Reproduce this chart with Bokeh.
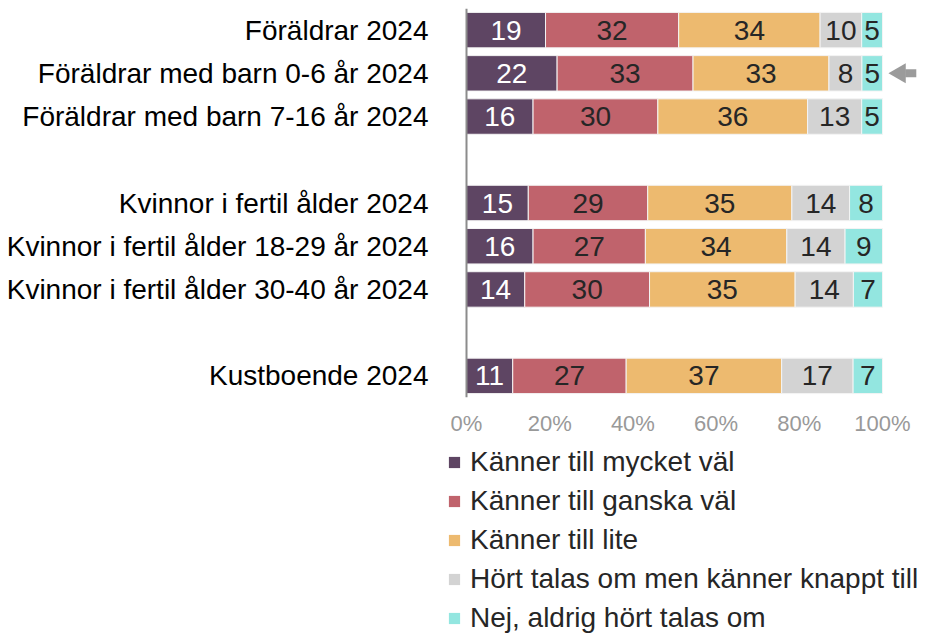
import numpy as np
from bokeh.plotting import figure
from bokeh.layouts import column
from bokeh.models import Range1d, FixedTicker, Legend, LegendItem, ColumnDataSource, Span
from bokeh.embed import file_html
from bokeh.resources import INLINE
from bokeh.core.properties import value

categories = ["Föräldrar 2024", "Föräldrar med barn 0-6 år 2024", "Föräldrar med barn 7-16 år 2024",
              "Kvinnor i fertil ålder 2024", "Kvinnor i fertil ålder 18-29 år 2024",
              "Kvinnor i fertil ålder 30-40 år 2024", "Kustboende 2024"]
row_pos = [0, 1, 2, 4, 5, 6, 8]
series_names = ["Känner till mycket väl", "Känner till ganska väl", "Känner till lite",
                "Hört talas om men känner knappt till", "Nej, aldrig hört talas om"]
mycket = [19, 22, 16, 15, 16, 14, 11]
ganska = [32, 33, 30, 29, 27, 30, 27]
lite = [34, 33, 36, 35, 34, 35, 37]
knappt = [10, 8, 13, 14, 14, 14, 17]
aldrig = [5, 5, 5, 8, 9, 7, 7]
colors = ["#5E4563", "#C0636C", "#EDBA6F", "#D3D3D3", "#93E6E0"]
label_colors = ["#FFFFFF", "#262626", "#262626", "#262626", "#262626"]
x_ticks = [0, 20, 40, 60, 80, 100]
arrow_row = 1

FONT = "Liberation Sans"

series = [mycket, ganska, lite, knappt, aldrig]
vals = np.array(series, dtype=float)          # shape (5, 7)
totals = vals.sum(axis=0)
shares = vals / totals * 100.0
rights = np.cumsum(shares, axis=0)
lefts = rights - shares

# layout constants (pixels)
FRAME_LEFT = 447      # left edge of both frames (legend swatches start here)
ZERO_PX = 466         # position of 0 %
PX_PER_100 = 416      # pixels for 100 %
px_per_unit = PX_PER_100 / 100.0
x_start = -(ZERO_PX - FRAME_LEFT) / px_per_unit
x_end = (928 - ZERO_PX) / px_per_unit

# ---------------- main chart ----------------
p = figure(width=928, height=442, output_backend="svg", toolbar_location=None,
           x_range=Range1d(x_start, x_end), y_range=Range1d(8.5, -0.5),
           min_border_left=FRAME_LEFT, min_border_right=0, min_border_top=8, min_border_bottom=45)
p.outline_line_color = None
p.xgrid.grid_line_color = None
p.ygrid.grid_line_color = None
p.background_fill_color = None
p.border_fill_color = "white"

for i in range(5):
    src = ColumnDataSource(dict(y=row_pos, left=lefts[i], right=rights[i],
                                mid=(lefts[i] + rights[i]) / 2,
                                txt=[str(v) for v in series[i]]))
    p.hbar(y="y", left="left", right="right", height=0.82, source=src,
           fill_color=colors[i], line_color="#F4F4F4", line_width=1)
    p.text(x="mid", y="y", text="txt", source=src, text_align="center", text_baseline="middle",
           text_font=value(FONT), text_font_size="28px", text_color=label_colors[i])

# vertical baseline at 0 %
p.add_layout(Span(location=0, dimension="height", line_color="#8C8C8C", line_width=2))

# highlight arrow
p.scatter(x=[104.2], y=[arrow_row], marker="triangle", size=20, angle=np.pi / 2,
          fill_color="#9B9B9B", line_color=None)
p.rect(x=[106.8], y=[arrow_row], width=11, height=8, width_units="screen", height_units="screen",
       fill_color="#9B9B9B", line_color=None)

# y axis (labels only)
p.yaxis.ticker = FixedTicker(ticks=row_pos)
p.yaxis.major_label_overrides = {pos: cat for pos, cat in zip(row_pos, categories)}
p.yaxis.major_tick_line_color = None
p.yaxis.minor_tick_line_color = None
p.yaxis.major_tick_out = 0
p.yaxis.major_tick_in = 0
p.yaxis.axis_line_color = None
p.yaxis.major_label_standoff = 38 - (ZERO_PX - FRAME_LEFT)
p.yaxis.major_label_text_font = FONT
p.yaxis.major_label_text_font_size = "28px"
p.yaxis.major_label_text_color = "#000000"

# x axis
p.xaxis.ticker = FixedTicker(ticks=x_ticks)
p.xaxis.major_label_overrides = {t: f"{t}%" for t in x_ticks}
p.xaxis.axis_line_color = None
p.xaxis.major_tick_line_color = None
p.xaxis.minor_tick_line_color = None
p.xaxis.major_tick_out = 0
p.xaxis.major_tick_in = 0
p.xaxis.major_label_standoff = 13
p.xaxis.major_label_text_font = FONT
p.xaxis.major_label_text_font_size = "22px"
p.xaxis.major_label_text_color = "#999999"

# ---------------- legend panel ----------------
leg = figure(width=928, height=194, output_backend="svg", toolbar_location=None,
             x_range=Range1d(0, 100), y_range=Range1d(100, 101),
             x_axis_type=None, y_axis_type=None,
             min_border_left=FRAME_LEFT, min_border_top=4, min_border_right=0, min_border_bottom=0)
leg.outline_line_color = None
leg.background_fill_color = None
leg.border_fill_color = "white"
leg_renderers = []
for i in range(5):
    # same data as the main chart; the range keeps them out of view, only the legend shows
    r = leg.hbar(y=row_pos, left=lefts[i], right=rights[i], height=0.82,
                 fill_color=colors[i], line_color=None)
    leg_renderers.append(r)

legend = Legend(items=[LegendItem(label=n, renderers=[r]) for n, r in zip(series_names, leg_renderers)],
                location="top_left", orientation="vertical",
                label_text_font=FONT, label_text_font_size="28px", label_text_color="#262626",
                glyph_width=14, glyph_height=14, label_standoff=9, spacing=7, label_height=32,
                padding=0, margin=0, border_line_color=None, background_fill_alpha=0)
leg.add_layout(legend)

layout = column(p, leg, spacing=0)
open("out.html", "w").write(file_html(layout, INLINE))
